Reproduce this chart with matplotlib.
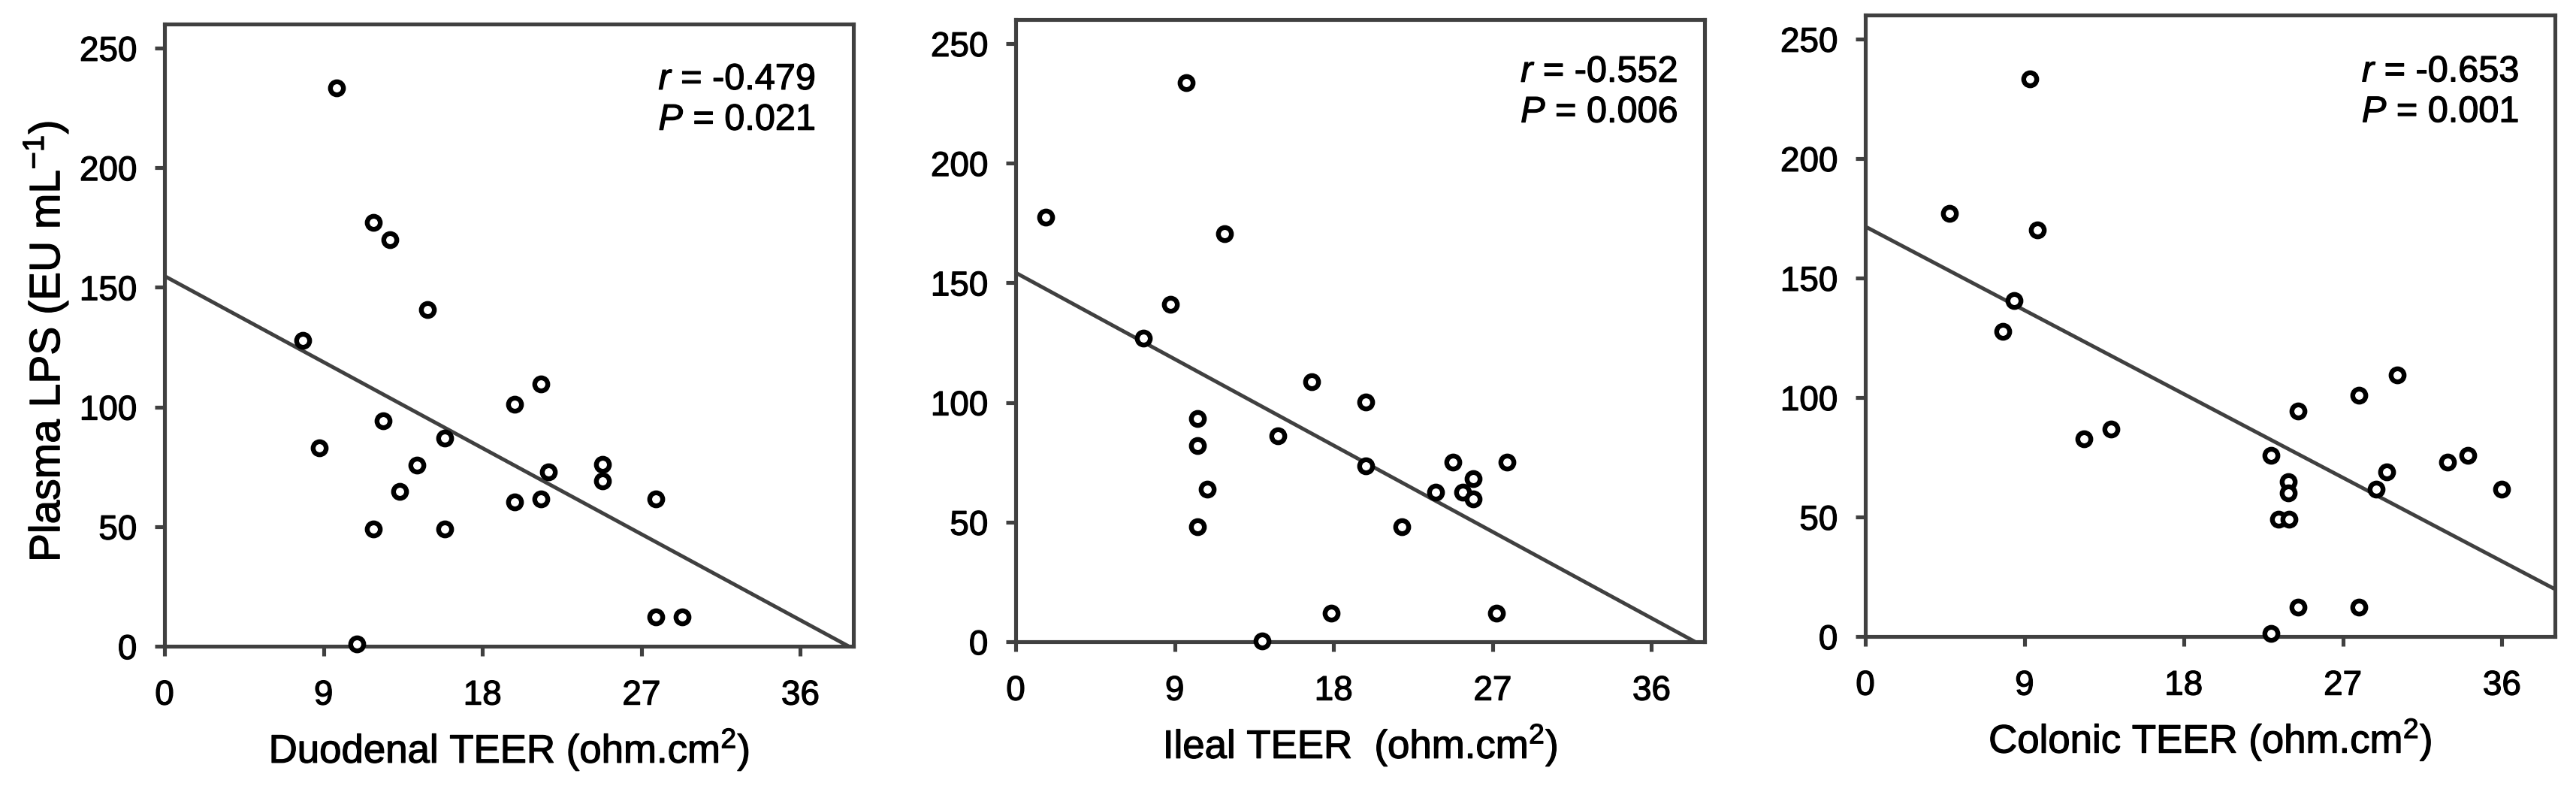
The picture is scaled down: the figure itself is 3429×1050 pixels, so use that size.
import matplotlib
matplotlib.use("Agg")
import matplotlib.pyplot as plt
import matplotlib.patheffects as pe
import numpy as np

plt.rcParams['font.family'] = ['Liberation Sans', 'DejaVu Sans']
plt.rcParams['mathtext.fontset'] = 'custom'
plt.rcParams['mathtext.rm'] = 'Liberation Sans'
plt.rcParams['mathtext.it'] = 'Liberation Sans:italic'
plt.rcParams['mathtext.default'] = 'rm'

# ---------------- data ----------------
lps_duo = [233.2, 177.0, 169.8, 140.6, 127.7, 109.6, 101.0, 94.1, 82.9, 86.9, 75.8, 73.0,
           76.0, 69.0, 64.6, 60.2, 61.7, 61.7, 49.0, 49.0, 12.4, 12.4, 1.0]
teer_duo = [9.76, 11.83, 12.76, 14.87, 7.81, 21.31, 19.83, 12.39, 8.77, 15.86, 14.31, 21.75,
            24.78, 24.78, 13.32, 19.83, 21.31, 27.82, 11.83, 15.86, 27.82, 29.31, 10.9]

lps_ile = [233.6, 177.4, 170.5, 141.0, 126.9, 108.6, 100.2, 93.2, 82.1, 86.1, 73.4, 63.8,
           48.2, 74.9, 74.9, 68.0, 62.5, 62.5, 59.6, 48.2, 11.8, 11.8, 0.4]
teer_ile = [9.67, 1.71, 11.81, 8.77, 7.21, 16.75, 19.83, 10.29, 10.29, 14.86, 19.83, 10.85,
            10.29, 24.74, 27.82, 25.92, 23.78, 25.30, 25.92, 21.85, 17.87, 27.2, 13.93]

lps_col = [233.2, 177.0, 170.0, 140.6, 127.7, 82.7, 86.9, 109.4, 101.0, 94.3, 75.8, 64.8,
           60.2, 49.0, 49.0, 68.8, 61.7, 73.0, 75.8, 61.7, 12.4, 12.4, 1.3]
teer_col = [9.30, 4.75, 9.71, 8.40, 7.77, 12.36, 13.89, 30.07, 27.91, 24.48, 22.95, 23.92,
            23.92, 23.35, 23.98, 29.47, 28.91, 32.94, 34.06, 36.0, 24.48, 27.91, 22.95]

fit_intercept = [154.7, 154.2, 171.5]
fit_slope = [-3.995, -4.01, -3.89]

r_values = ['-0.479', '-0.552', '-0.653']
p_values = ['0.021', '0.006', '0.001']

x_labels = ['Duodenal TEER (ohm.cm$^{2}$)', 'Ileal TEER  (ohm.cm$^{2}$)', 'Colonic TEER (ohm.cm$^{2}$)']
y_label = 'Plasma LPS (EU mL$^{-1}$)'

x_ticks = [0, 9, 18, 27, 36]
y_ticks = [0, 50, 100, 150, 200, 250]

# ---------------- layout ----------------
W, H = 3429, 1050
fig = plt.figure(figsize=(W / 100, H / 100), dpi=100)

# axes boxes in pixels: left, right, top, bottom
boxes = [(219, 1136, 32, 860), (1352, 2269, 26, 854), (2483, 3401, 20, 847)]
r_xpos = [0.717, 0.733, 0.720]
r_ypos = [0.895, 0.900, 0.893]

xs = [teer_duo, teer_ile, teer_col]
ys = [lps_duo, lps_ile, lps_col]

bold = [pe.withStroke(linewidth=0.9, foreground='black')]

spine_col = '#404040'
for i in range(3):
    l, r, t, b = boxes[i]
    ax = fig.add_axes([l / W, (H - b) / H, (r - l) / W, (b - t) / H])
    ax.set_xlim(0, 39)
    ax.set_ylim(0, 260)
    ax.plot(xs[i], ys[i], linestyle='none', marker='o', markersize=12.5,
            markerfacecolor='white', markeredgecolor='black', markeredgewidth=4.6,
            zorder=3, clip_on=False)
    x_end = min(39.0, -fit_intercept[i] / fit_slope[i])
    xl = np.array([0.0, x_end])
    ax.plot(xl, fit_intercept[i] + fit_slope[i] * xl, color=spine_col, lw=3.6,
            solid_capstyle='butt', zorder=2)
    for s in ax.spines.values():
        s.set_color(spine_col)
        s.set_linewidth(3.7)
    ax.set_xticks(x_ticks)
    ax.set_yticks(y_ticks)
    ax.tick_params(axis='both', direction='out', length=9.4, width=3.7, color=spine_col,
                   labelsize=33, labelcolor='black')
    ax.tick_params(axis='x', pad=22)
    ax.tick_params(axis='y', pad=17)
    for lab in ax.get_xticklabels() + ax.get_yticklabels():
        lab.set_path_effects(bold)
    ax.set_xlabel(x_labels[i], fontsize=38)
    ax.xaxis.label.set_va('baseline')
    ax.xaxis.set_label_coords(0.5, -0.187)
    ax.xaxis.label.set_path_effects(bold)
    if i == 0:
        ax.set_ylabel(y_label, fontsize=41)
        ax.yaxis.label.set_va('baseline')
        ax.yaxis.set_label_coords(-0.152, 0.49)
        ax.yaxis.label.set_path_effects(bold)
    t1 = ax.text(r_xpos[i], r_ypos[i], '$\\it{r}$ = ' + r_values[i], transform=ax.transAxes,
                 fontsize=35, ha='left', va='baseline')
    t2 = ax.text(r_xpos[i], r_ypos[i] - 0.065, '$\\it{P}$ = ' + p_values[i], transform=ax.transAxes,
                 fontsize=35, ha='left', va='baseline')
    t1.set_path_effects(bold)
    t2.set_path_effects(bold)

fig.savefig('out.png', dpi=100)
